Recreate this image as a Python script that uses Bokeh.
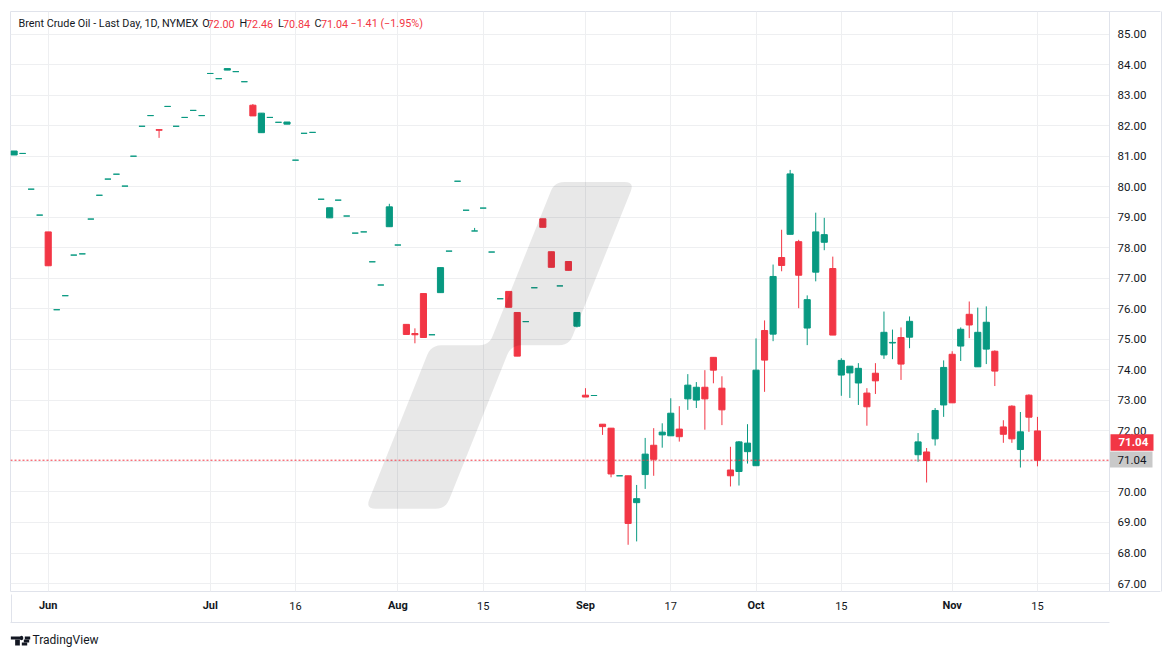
import numpy as np
import pandas as pd
from bokeh.plotting import figure
from bokeh.models import (Range1d, FixedTicker, Label, Span, LinearAxis,
                          ColumnDataSource, NumeralTickFormatter)
from bokeh.embed import file_html
from bokeh.resources import INLINE

# ---------------- data ----------------
holidays = ["2024-06-19", "2024-07-04", "2024-09-02"]
dates = [d.strftime("%Y-%m-%d") for d in pd.bdate_range("2024-05-28", "2024-11-15")
         if d.strftime("%Y-%m-%d") not in holidays]

opens = [81.04, 81.09, 79.92, 79.07, 78.52, 75.97, 76.43, 77.76, 77.80, 78.94,
         79.72, 80.25, 80.41, 80.02, 81.00, 81.98, 82.33, 81.87, 82.63, 81.98,
         82.27, 82.50, 82.33, 83.71, 83.54, 83.82, 83.77, 83.44, 82.67, 81.77,
         82.27, 82.11, 82.05, 80.87, 81.75, 81.78, 79.59, 78.98, 79.56, 79.04,
         78.48, 78.52, 77.54, 76.78, 78.69, 78.09, 75.49, 75.19, 76.50, 75.15,
         76.53, 77.89, 80.18, 79.23, 78.55, 79.30, 77.86, 76.33, 76.57, 75.88,
         75.58, 76.69, 78.95, 77.87, 76.75, 77.55, 75.43, 73.17, 73.16, 72.22,
         72.09, 70.53, 70.53, 69.65, 70.57, 71.53, 71.87, 71.84, 72.06, 73.05,
         73.01, 73.43, 74.41, 73.40, 70.72, 70.67, 71.32, 70.86, 75.29, 75.17,
         77.68, 78.44, 78.20, 75.37, 77.20, 78.18, 77.32, 73.83, 73.90, 73.57,
         73.24, 73.89, 74.49, 74.88, 75.06, 75.07, 71.22, 71.31, 71.74, 72.85,
         74.51, 74.78, 75.82, 74.10, 74.68, 74.61, 72.13, 72.81, 71.39, 73.17,
         72.00]
highs = [81.17, 81.09, 79.92, 79.07, 78.52, 75.97, 76.43, 77.76, 77.80, 78.94,
         79.72, 80.25, 80.41, 80.02, 81.00, 81.98, 82.33, 81.87, 82.63, 81.98,
         82.27, 82.50, 82.33, 83.71, 83.54, 83.87, 83.77, 83.44, 82.71, 82.41,
         82.27, 82.11, 82.12, 80.87, 81.75, 81.78, 79.59, 79.31, 79.56, 79.04,
         78.48, 78.52, 77.54, 76.78, 79.44, 78.09, 75.49, 75.36, 76.50, 75.15,
         77.35, 77.89, 80.18, 79.23, 78.65, 79.30, 77.86, 76.33, 76.57, 75.88,
         75.58, 76.69, 78.95, 77.87, 76.75, 77.55, 75.88, 73.40, 73.16, 72.22,
         72.09, 70.53, 70.53, 70.23, 71.77, 72.09, 72.25, 73.07, 72.81, 73.86,
         73.60, 73.99, 74.41, 73.79, 71.48, 71.67, 72.22, 75.03, 75.62, 77.45,
         78.59, 80.55, 78.26, 76.44, 79.15, 78.98, 77.71, 74.38, 74.12, 74.22,
         73.40, 74.22, 75.91, 75.32, 75.39, 75.75, 71.93, 71.44, 72.75, 74.31,
         74.61, 75.39, 76.24, 76.04, 76.08, 74.64, 72.35, 72.84, 72.62, 73.20,
         72.46]
lows = [81.04, 81.09, 79.92, 79.07, 77.41, 75.97, 76.43, 77.76, 77.80, 78.94,
        79.72, 80.25, 80.41, 80.02, 81.00, 81.98, 82.33, 81.60, 82.63, 81.98,
        82.27, 82.50, 82.33, 83.71, 83.54, 83.82, 83.77, 83.44, 82.32, 81.77,
        82.27, 82.11, 82.05, 80.87, 81.75, 81.78, 79.59, 78.98, 79.56, 79.04,
        78.48, 78.52, 77.54, 76.78, 78.69, 78.09, 75.16, 74.87, 75.06, 75.15,
        76.53, 77.89, 80.18, 79.23, 78.55, 79.30, 77.86, 76.33, 76.05, 74.45,
        75.58, 76.69, 78.67, 77.36, 76.75, 77.26, 75.39, 73.11, 73.16, 71.87,
        70.48, 70.53, 68.27, 68.38, 70.10, 70.53, 71.45, 71.84, 71.65, 72.69,
        72.75, 72.04, 73.56, 72.19, 70.18, 70.21, 70.93, 70.86, 73.28, 74.94,
        77.23, 78.44, 76.02, 74.81, 76.90, 77.92, 75.14, 73.15, 73.08, 72.85,
        72.17, 73.21, 74.36, 74.35, 73.67, 74.71, 70.99, 70.31, 71.52, 72.46,
        72.92, 74.29, 75.04, 74.10, 74.19, 73.47, 71.61, 71.61, 70.80, 71.97,
        70.84]
closes = [81.17, 81.09, 79.92, 79.07, 77.41, 75.97, 76.43, 77.76, 77.80, 78.94,
          79.72, 80.25, 80.41, 80.02, 81.00, 81.98, 82.33, 81.85, 82.63, 81.98,
          82.27, 82.50, 82.33, 83.71, 83.54, 83.87, 83.77, 83.44, 82.32, 82.41,
          82.27, 82.11, 82.12, 80.87, 81.75, 81.78, 79.59, 79.31, 79.56, 79.04,
          78.48, 78.52, 77.54, 76.78, 79.34, 78.09, 75.16, 75.15, 75.06, 75.15,
          77.35, 77.89, 80.18, 79.23, 78.55, 79.30, 77.86, 76.33, 76.05, 74.45,
          75.58, 76.69, 78.67, 77.36, 76.75, 77.26, 75.88, 73.11, 73.16, 72.14,
          70.59, 70.53, 68.97, 69.78, 71.24, 71.07, 71.96, 72.58, 71.81, 73.50,
          73.43, 73.05, 73.99, 72.69, 70.53, 71.64, 71.60, 73.99, 74.32, 77.06,
          77.42, 80.42, 77.10, 76.30, 78.52, 78.43, 75.14, 74.31, 74.12, 74.05,
          72.79, 73.64, 75.23, 74.90, 74.19, 75.59, 71.64, 71.03, 72.67, 74.08,
          72.92, 75.33, 75.47, 75.23, 75.56, 73.96, 71.89, 71.74, 71.97, 72.45,
          71.04]

tick_dates = ["2024-06-03", "2024-07-01", "2024-07-16", "2024-08-01", "2024-08-15",
              "2024-09-03", "2024-09-17", "2024-10-01", "2024-10-15", "2024-11-01",
              "2024-11-15"]
tick_labels = ["Jun", "Jul", "16", "Aug", "15", "Sep", "17", "Oct", "15", "Nov", "15"]
price_ticks = list(range(67, 86))

title = "Brent Crude Oil - Last Day, 1D, NYMEX"

GREEN = "#089981"
RED = "#F23645"
TEXT = "#131722"
BORDER = "#e0e3eb"
GRID = "#eeeff1"
BOXGRAY = "#c9c9c9"
FONT = "Roboto"

# page pixel geometry -> data coordinates (decorations only)
def X(px):
    return (px - 13.6) / 8.528

def Y(py):
    return 84 - (py - 64.3) / 30.63

# ---------------- figure ----------------
x_idx = list(range(len(dates)))
p = figure(width=1162, height=649, x_range=Range1d(X(10), X(1109)),
           y_range=Range1d(Y(593), Y(11)), y_axis_location="right",
           output_backend="svg", toolbar_location=None,
           min_border_left=10, min_border_top=11, min_border_right=53,
           min_border_bottom=56)
p.background_fill_color = "white"
p.border_fill_color = "white"
p.outline_line_color = BORDER

p.xaxis.visible = False
tick_idx = [dates.index(d) for d in tick_dates]
p.xgrid.ticker = FixedTicker(ticks=tick_idx)
p.xgrid.grid_line_color = GRID
p.ygrid.grid_line_color = GRID
p.ygrid.ticker = FixedTicker(ticks=price_ticks)

last = closes[-1]

# main price scale
ya = p.yaxis[0]
ya.ticker = FixedTicker(ticks=[t for t in price_ticks if abs(t - last) > 0.5] + [last])
ya.formatter = NumeralTickFormatter(format="0.00")
ya.major_tick_line_color = None
ya.minor_tick_line_color = None
ya.major_tick_out = 0
ya.major_tick_in = 0
ya.minor_tick_out = 0
ya.minor_tick_in = 0
ya.major_label_standoff = 8
ya.axis_line_color = BORDER
ya.major_label_text_font = FONT
ya.major_label_text_font_size = "11.5px"
ya.major_label_text_color = TEXT


def guide(side=None, **kw):
    base = dict(ticker=FixedTicker(ticks=[]), axis_line_color=None,
                major_tick_line_color=None, minor_tick_line_color=None,
                major_tick_in=0, major_tick_out=0, minor_tick_in=0, minor_tick_out=0,
                major_label_standoff=0)
    base.update(kw)
    ax = LinearAxis(**base)
    if side is not None:
        p.add_layout(ax, side)
    return ax


def spacer(side, size, at):
    # an empty band of `size` pixels in a side panel (invisible minor tick)
    return guide(side, ticker=FixedTicker(ticks=[], minor_ticks=[at]),
                 major_tick_out=size, minor_tick_out=size)

# ---------------- right panel ----------------
edge_lines = guide(ticker=FixedTicker(ticks=[], minor_ticks=[Y(592.5), Y(11.5)]),
                   minor_tick_line_color=BORDER, minor_tick_line_width=1,
                   minor_tick_in=-51, minor_tick_out=0)
gray_box = guide(ticker=FixedTicker(ticks=[], minor_ticks=[Y(460.3)]),
                 minor_tick_line_color=BOXGRAY, minor_tick_line_width=16,
                 minor_tick_in=-43, minor_tick_out=0)
spacer_r = spacer(None, 12, 80)
red_box = guide(ticker=FixedTicker(ticks=[71.625]),
                major_label_overrides={71.625: f"{last:.2f}"},
                axis_line_color=BORDER,
                major_tick_line_color=RED, major_tick_line_width=16.7,
                major_tick_in=51, major_tick_out=-8, major_label_standoff=-43,
                major_label_text_font=FONT, major_label_text_font_size="11.5px",
                major_label_text_color="white", major_label_text_font_style="bold")
p.right = [edge_lines, gray_box, ya, spacer_r, red_box]

# ---------------- below panel: time scale ----------------
month_ticks = [t for t, l in zip(tick_idx, tick_labels) if l.isalpha()]
day_ticks = [t for t, l in zip(tick_idx, tick_labels) if not l.isalpha()]
guide("below", ticker=FixedTicker(ticks=month_ticks),
      major_label_overrides={t: l for t, l in zip(tick_idx, tick_labels) if l.isalpha()},
      major_label_standoff=7, major_label_text_font=FONT,
      major_label_text_font_size="11px", major_label_text_color=TEXT,
      major_label_text_font_style="bold")
guide("below", ticker=FixedTicker(ticks=day_ticks),
      major_label_overrides={t: l for t, l in zip(tick_idx, tick_labels) if not l.isalpha()},
      major_label_standoff=-13, major_label_text_font=FONT,
      major_label_text_font_size="11px", major_label_text_color=TEXT,
      major_label_text_font_style="normal")
spacer("below", 8, 60)                                               # -> y=621
guide("below", axis_line_color=BORDER,                               # bottom border
      ticker=FixedTicker(ticks=[], minor_ticks=[X(10.5)]),
      minor_tick_line_color=BORDER, minor_tick_line_width=1,
      minor_tick_in=28, minor_tick_out=0)
spacer("below", 24, 60)                                              # -> y=645

# TradingView logo (shapes drawn upward from y=645)
def logo_bar(xc, width, top, bottom, cap="butt"):
    guide("below", ticker=FixedTicker(ticks=[], minor_ticks=[X(xc)]),
          minor_tick_line_color=TEXT, minor_tick_line_width=width,
          minor_tick_line_cap=cap, minor_tick_in=645 - top, minor_tick_out=bottom - 645)

logo_bar(14.65, 9.3, 635, 638)      # T bar
logo_bar(16.95, 4.7, 638, 644)      # T stem
logo_bar(21.2, 3.4, 636, 637, cap="round")   # dot
logo_bar(27.2, 5.4, 635, 638)       # slash (stepped)
logo_bar(25.7, 5.4, 638, 641)
logo_bar(24.2, 5.4, 641, 644)
guide("below", ticker=FixedTicker(ticks=[X(65)]),
      major_label_overrides={X(65): "TradingView"},
      major_label_standoff=-14, major_label_text_font=FONT,
      major_label_text_font_size="12px", major_label_text_color=TEXT)

# ---------------- candles ----------------
colors = [GREEN if c >= o else RED for o, c in zip(opens, closes)]
src = ColumnDataSource(dict(
    x=x_idx, high=highs, low=lows,
    top=[max(o, c) for o, c in zip(opens, closes)],
    bottom=[min(o, c) for o, c in zip(opens, closes)],
    color=colors))
p.segment(x0="x", y0="high", x1="x", y1="low", line_color="color",
          line_width=1, source=src)
p.vbar(x="x", width=0.72, top="top", bottom="bottom", fill_color="color",
       line_color="color", line_width=1, source=src)

# last price line
p.add_layout(Span(location=last, dimension="width", line_color=RED,
                  line_dash="2 2", line_width=1))

# ---------------- watermark (decorative) ----------------
def rounded(points, r, n=7):
    out = []
    m = len(points)
    for i in range(m):
        p0, p1, p2 = points[i - 1], points[i], points[(i + 1) % m]
        d1 = np.hypot(p0[0] - p1[0], p0[1] - p1[1])
        d2 = np.hypot(p2[0] - p1[0], p2[1] - p1[1])
        rr = min(r, d1 / 2, d2 / 2)
        a = (p1[0] + (p0[0] - p1[0]) * rr / d1, p1[1] + (p0[1] - p1[1]) * rr / d1)
        b = (p1[0] + (p2[0] - p1[0]) * rr / d2, p1[1] + (p2[1] - p1[1]) * rr / d2)
        for t in np.linspace(0, 1, n):
            out.append(((1 - t) ** 2 * a[0] + 2 * (1 - t) * t * p1[0] + t ** 2 * b[0],
                        (1 - t) ** 2 * a[1] + 2 * (1 - t) * t * p1[1] + t ** 2 * b[1]))
    return out

wm = rounded([(365, 510), (445, 510), (510.6, 346), (568.4, 346), (634, 182),
              (554, 182), (488.4, 346), (430.6, 346)], 10)
p.patch([X(a) for a, _ in wm], [Y(b) for _, b in wm],
        fill_color="black", fill_alpha=0.09, line_alpha=0)

# ---------------- legend (inside frame) ----------------
chg = closes[-1] - closes[-2]
pct = chg / closes[-2] * 100
legend_parts = [
    (title, TEXT, 18),
    ("O", TEXT, 201.7), (f"{opens[-1]:.2f}", RED, 207),
    ("H", TEXT, 239), (f"{highs[-1]:.2f}", RED, 245.5),
    ("L", TEXT, 277.5), (f"{lows[-1]:.2f}", RED, 282.5),
    ("C", TEXT, 314), (f"{closes[-1]:.2f}", RED, 320.5),
    (f"{chg:+.2f} ({pct:+.2f}%)".replace("-", "\u2212"), RED, 350),
]
for txt, col, px in legend_parts:
    p.add_layout(Label(x=px - 10, y=593 - 25, x_units="screen", y_units="screen",
                       text=txt, text_align="left", text_baseline="middle",
                       text_font=FONT, text_font_size="10.8px", text_color=col))

open("out.html", "w").write(file_html(p, INLINE))
